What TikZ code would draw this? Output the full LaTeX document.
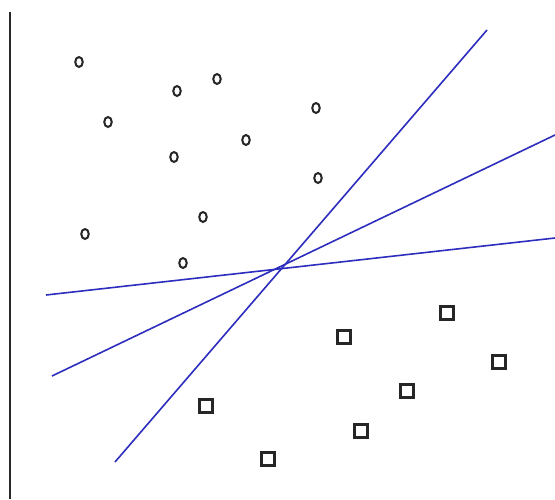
\documentclass[tikz,border=0pt]{standalone}
\usetikzlibrary{shapes.geometric}
\definecolor{lineblue}{RGB}{45,45,190}
\definecolor{axisgray}{RGB}{40,40,40}
\tikzset{
  circmark/.style={ellipse, draw=black!85, line width=2pt, inner sep=0pt, minimum width=7.5pt, minimum height=10pt},
  sqmark/.style={rectangle, draw=black!85, line width=2.2pt, inner sep=0pt, minimum size=13pt},
  sepline/.style={lineblue, line width=1.6pt},
  axisline/.style={axisgray, line width=2.6pt}
}
\begin{document}
\begin{tikzpicture}[x=1pt,y=-1pt]
\useasboundingbox (0,0) rectangle (555,499);
\coordinate (axtop) at (10,12);
\coordinate (axbot) at (10,499);
\draw[axisline] (axtop) -- (axbot);
% circles
\node[circmark] (c1) at (79,62) {};
\node[circmark] (c2) at (108,122) {};
\node[circmark] (c3) at (177,91) {};
\node[circmark] (c4) at (217,79) {};
\node[circmark] (c5) at (174,157) {};
\node[circmark] (c6) at (246,140) {};
\node[circmark] (c7) at (316,108) {};
\node[circmark] (c8) at (318,178) {};
\node[circmark] (c9) at (203,217) {};
\node[circmark] (c10) at (85,234) {};
\node[circmark] (c11) at (183,263) {};
% squares
\node[sqmark] (s1) at (206,406) {};
\node[sqmark] (s2) at (268,459) {};
\node[sqmark] (s3) at (344,337) {};
\node[sqmark] (s4) at (447,313) {};
\node[sqmark] (s5) at (499,362) {};
\node[sqmark] (s6) at (407,391) {};
\node[sqmark] (s7) at (361,431) {};
% separating lines
\coordinate (l1a) at (115,462);
\coordinate (l1b) at (487,30);
\coordinate (l2a) at (52,376);
\coordinate (l2b) at (555,135);
\coordinate (l3a) at (46,295);
\coordinate (l3b) at (555,238);
\draw[sepline] (l1a) -- (l1b);
\draw[sepline] (l2a) -- (l2b);
\draw[sepline] (l3a) -- (l3b);
\end{tikzpicture}
\end{document}
